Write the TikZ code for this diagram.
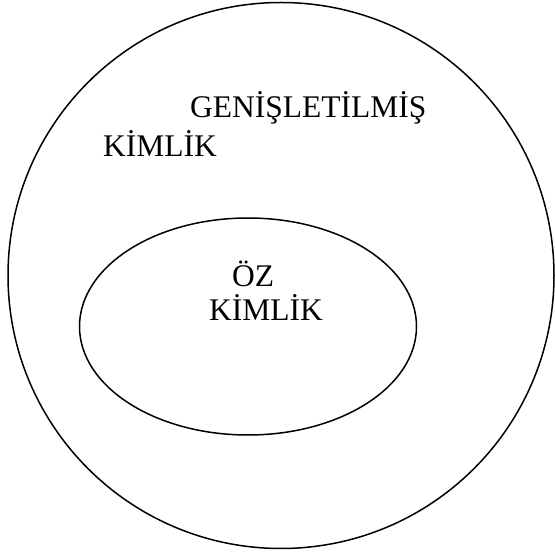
\documentclass[tikz,border=0pt]{standalone}
\usepackage{fontspec}
\setmainfont{Liberation Serif}
\usetikzlibrary{shapes.geometric}
\begin{document}
\begin{tikzpicture}[x=1pt,y=-1pt,
  ring/.style={draw=black,line width=1.5pt,inner sep=0pt,outer sep=0pt},
  lbl/.style={anchor=base west,inner sep=0pt,font=\fontsize{31.5}{36}\selectfont}]
\useasboundingbox (0,0) rectangle (555,553);
\node[ring,circle,minimum size=546pt] (outer) at (281,275.5) {};
\node[ring,ellipse,minimum width=337pt,minimum height=217pt] (inner) at (248,326.5) {};
\node[lbl] (gen) at (190,118) {GENİŞLETİLMİŞ};
\node[lbl] (kim1) at (103,157) {KİMLİK};
\node[lbl] (oz) at (232,287) {ÖZ};
\node[lbl] (kim2) at (209,321) {KİMLİK};
\end{tikzpicture}
\end{document}
